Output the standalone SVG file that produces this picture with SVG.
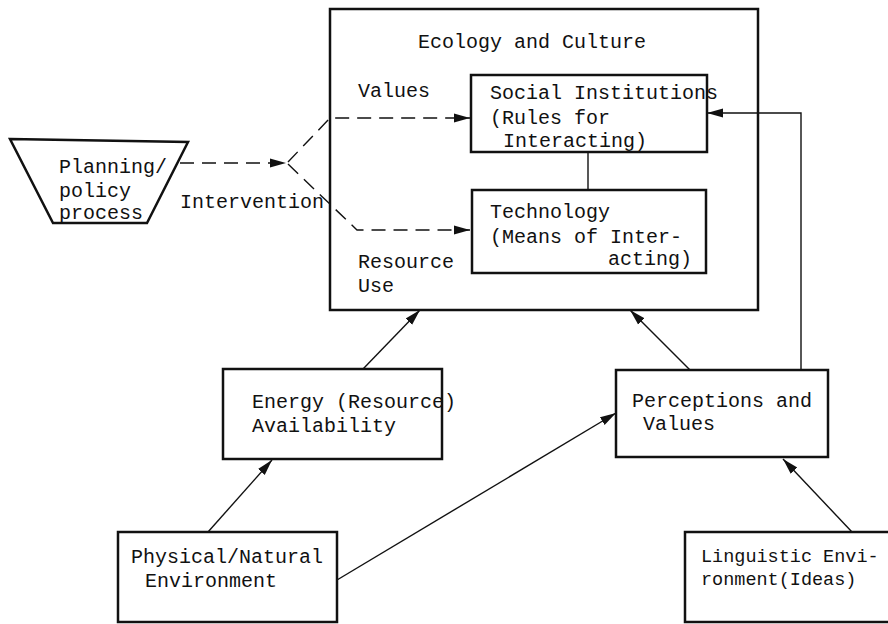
<svg xmlns="http://www.w3.org/2000/svg" width="888" height="624" viewBox="0 0 888 624">
<style>
.box{fill:none;stroke:#111;stroke-width:2.5}
.ln{fill:none;stroke:#111;stroke-width:1.4}
.dash{fill:none;stroke:#111;stroke-width:1.4;stroke-dasharray:14 8}
text{font-family:"Liberation Mono","DejaVu Sans Mono",monospace;font-size:20px;fill:#111}
.sm{font-size:18.5px}
</style>
<defs>
<marker id="ah" markerUnits="userSpaceOnUse" markerWidth="18" markerHeight="12" refX="16" refY="6" orient="auto">
<path d="M0,1.5 L16,6 L0,10.5 Z" fill="#111"/>
</marker>
</defs>
<rect width="888" height="624" fill="#fff"/>
<g id="connectors">
<path class="dash" d="M180,163 L286,163" marker-end="url(#ah)"/>
<path class="dash" d="M288,162 L330,118 L470,118" marker-end="url(#ah)"/>
<path class="dash" d="M288,164 L357,230 L470,230" marker-end="url(#ah)"/>
<path class="ln" d="M588,152 L588,190"/>
<path class="ln" d="M801,370 L801,113 L707,113" marker-end="url(#ah)"/>
<path class="ln" d="M363,369 L420,310" marker-end="url(#ah)"/>
<path class="ln" d="M208,532 L272,460" marker-end="url(#ah)"/>
<path class="ln" d="M337,580 L616,413" marker-end="url(#ah)"/>
<path class="ln" d="M690,370 L630,310" marker-end="url(#ah)"/>
<path class="ln" d="M852,532 L783,459" marker-end="url(#ah)"/>
</g>
<g id="ecology-culture">
<rect class="box" x="330" y="9" width="428" height="301"/>
<text x="418" y="48">Ecology and Culture</text>
<text x="358" y="97" fill="#333">Values</text>
<text x="358" y="268">Resource</text>
<text x="358" y="292">Use</text>
</g>
<g id="planning">
<polygon class="box" points="10,139 188,142 147,223 53,223"/>
<text x="59" y="173">Planning/</text>
<text x="59" y="197">policy</text>
<text x="59" y="219">process</text>
</g>
<text id="intervention" x="180" y="208">Intervention</text>
<g id="social-institutions">
<rect class="box" x="471" y="75" width="236" height="77"/>
<text x="490" y="99">Social Institutions</text>
<text x="490" y="124">(Rules for</text>
<text x="503" y="147">Interacting)</text>
</g>
<g id="technology">
<rect class="box" x="472" y="190" width="234" height="83"/>
<text x="490" y="218">Technology</text>
<text x="490" y="243">(Means of Inter-</text>
<text x="608" y="265">acting)</text>
</g>
<g id="energy">
<rect class="box" x="223" y="369" width="219" height="90"/>
<text x="252" y="408">Energy (Resource)</text>
<text x="252" y="432">Availability</text>
</g>
<g id="perceptions">
<rect class="box" x="616" y="370" width="212" height="87"/>
<text x="632" y="407">Perceptions and</text>
<text x="643" y="430">Values</text>
</g>
<g id="physical">
<rect class="box" x="118" y="532" width="219" height="90"/>
<text x="131" y="563">Physical/Natural</text>
<text x="145" y="587">Environment</text>
</g>
<g id="linguistic">
<rect class="box" x="685" y="532" width="215" height="90"/>
<text class="sm" x="701" y="562">Linguistic Envi-</text>
<text class="sm" x="701" y="585">ronment(Ideas)</text>
</g>
</svg>
